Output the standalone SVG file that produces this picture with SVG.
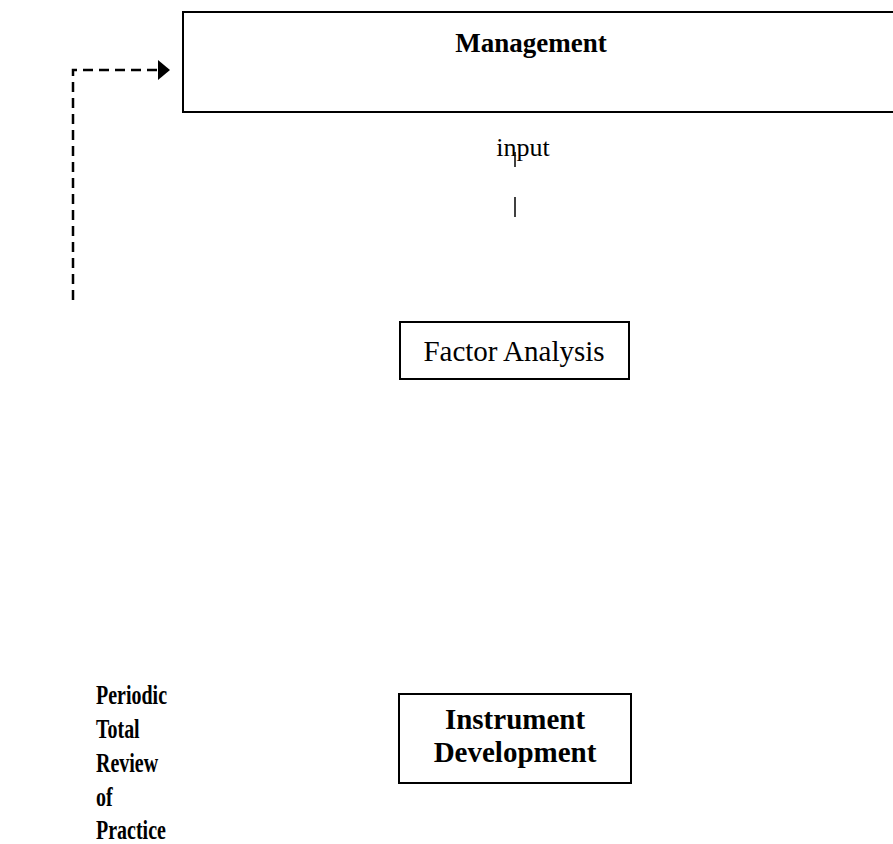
<svg xmlns="http://www.w3.org/2000/svg" width="893" height="844" viewBox="0 0 893 844">
  <style>
    .box { fill: #ffffff; stroke: #000000; stroke-width: 2; }
    .t { font-family: "Liberation Serif", "Times New Roman", serif; fill: #000000; }
    .b { font-weight: bold; }
    .dash { fill: none; stroke: #000000; stroke-width: 2.5; stroke-dasharray: 10 6; }
    .tick { stroke: #000000; stroke-width: 1.5; }
  </style>

  <g id="management">
    <rect class="box" x="183" y="12" width="730" height="100"/>
    <text class="t b" x="531" y="52" font-size="27" text-anchor="middle">Management</text>
  </g>

  <g id="input-label">
    <text class="t" x="523" y="156" font-size="26" text-anchor="middle">input</text>
  </g>

  <g id="factor-analysis">
    <rect class="box" x="400" y="322" width="229" height="57"/>
    <text class="t" x="514" y="361" font-size="29" text-anchor="middle">Factor Analysis</text>
  </g>

  <g id="instrument-development">
    <rect class="box" x="399" y="694" width="232" height="89"/>
    <text class="t b" x="515" y="729" font-size="29" text-anchor="middle">Instrument</text>
    <text class="t b" x="515" y="762" font-size="29" text-anchor="middle">Development</text>
  </g>

  <!-- side caption, set in a narrow bold face -->
  <g id="periodic-review" transform="translate(96,0) scale(0.74,1)">
    <text class="t b" font-size="27">
      <tspan x="0" y="704">Periodic</tspan>
      <tspan x="0" y="738">Total</tspan>
      <tspan x="0" y="772">Review</tspan>
      <tspan x="0" y="806">of</tspan>
      <tspan x="0" y="839">Practice</tspan>
    </text>
  </g>

  <g id="connectors">
    <path class="dash" d="M73,300 L73,70 L158,70"/>
    <path d="M158,60 L170,70 L158,80 Z" fill="#000000"/>
    <line class="tick" x1="515" y1="152" x2="515" y2="167"/>
    <line class="tick" x1="515" y1="197" x2="515" y2="217"/>
  </g>
</svg>
